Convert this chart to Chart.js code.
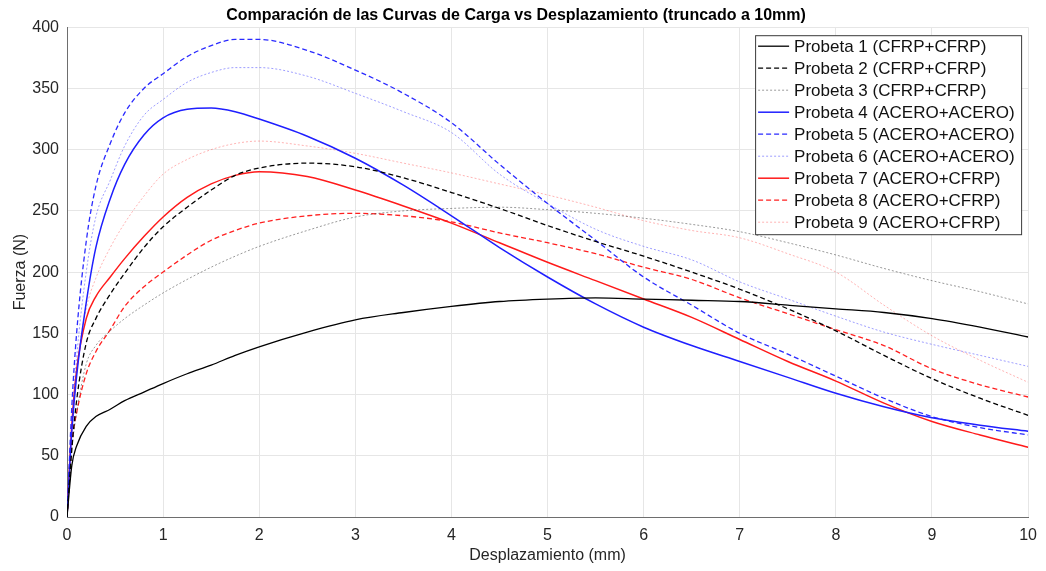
<!DOCTYPE html>
<html>
<head>
<meta charset="utf-8">
<script src="https://cdn.jsdelivr.net/npm/chart.js@4.4.1/dist/chart.umd.min.js"></script>
<style>
  html, body { margin: 0; padding: 0; background: #fff; }
  #wrap { width: 1046px; height: 571px; }
</style>
</head>
<body>
<div id="wrap"><canvas id="cargaChart" width="1046" height="571"></canvas></div>
<script>
// desplazamiento (mm), eje X compartido
const desplazamiento = [0, 0.05, 0.1, 0.2, 0.3, 0.45, 0.6, 0.8, 1, 1.25, 1.5, 1.75, 2, 2.5, 3, 3.5, 4, 4.5, 5, 5.5, 6, 6.5, 7, 7.5, 8, 8.5, 9, 9.5, 10];

// fuerza (N) por probeta
const probeta1 = [0, 42, 58, 74, 82, 88, 95, 102, 109, 117, 124, 132, 139, 151, 161, 167, 172, 176, 178, 179, 178, 177, 176, 173, 170, 167, 162, 155, 147];
const probeta2 = [0, 55, 95, 142, 162, 182, 199, 220, 237, 253, 267, 279, 285, 289, 286, 277, 265, 252, 238, 225, 213, 200, 186, 170, 152, 132, 113, 97, 83];
const probeta3 = [0, 55, 85, 125, 140, 152, 162, 173, 183, 194, 204, 213, 221, 234, 245, 250, 252, 253, 251, 248, 244, 239, 233, 224, 214, 203, 193, 184, 174];
const probeta4 = [0, 70, 115, 175, 220, 260, 288, 312, 326, 333, 334, 331, 325, 311, 293, 271, 246, 220, 196, 174, 155, 140, 127, 114, 101, 90, 81, 75, 70];
const probeta5 = [0, 90, 150, 225, 270, 305, 330, 350, 362, 376, 385, 390, 390, 381, 365, 346, 322, 288, 256, 226, 196, 173, 150, 133, 115, 97, 82, 73, 67];
const probeta6 = [0, 75, 130, 200, 245, 275, 303, 328, 341, 355, 363, 367, 367, 360, 346, 331, 314, 280, 256, 235, 221, 210, 192, 178, 164, 151, 141, 132, 123];
const probeta7 = [0, 75, 120, 162, 180, 196, 211, 229, 245, 261, 272, 279, 282, 278, 267, 254, 240, 224, 208, 193, 178, 163, 145, 127, 111, 93, 78, 67, 57];
const probeta8 = [0, 60, 85, 117, 135, 153, 172, 188, 200, 214, 226, 234, 240, 246, 248, 246, 241, 232, 224, 215, 204, 194, 179, 166, 153, 140, 121, 108, 98];
const probeta9 = [0, 65, 120, 170, 195, 220, 240, 262, 280, 292, 300, 305, 307, 303, 297, 289, 281, 272, 263, 253, 242, 234, 228, 215, 200, 173, 148, 128, 110];

const etiquetas = [
    'Probeta 1 (CFRP+CFRP)', 'Probeta 2 (CFRP+CFRP)', 'Probeta 3 (CFRP+CFRP)',
    'Probeta 4 (ACERO+ACERO)', 'Probeta 5 (ACERO+ACERO)', 'Probeta 6 (ACERO+ACERO)',
    'Probeta 7 (ACERO+CFRP)', 'Probeta 8 (ACERO+CFRP)', 'Probeta 9 (ACERO+CFRP)'
];
const ticksX = [0, 1, 2, 3, 4, 5, 6, 7, 8, 9, 10];
const ticksY = [0, 50, 100, 150, 200, 250, 300, 350, 400];

const FONT = '"Liberation Sans", Arial, Helvetica, sans-serif';

const series = [probeta1, probeta2, probeta3, probeta4, probeta5, probeta6, probeta7, probeta8, probeta9];
const estilos = [
    { color: '#000000', dash: [], width: 1.3 },
    { color: '#000000', dash: [5, 3], width: 1.3 },
    { color: 'rgba(0,0,0,0.4)', dash: [2, 2], width: 1 },
    { color: '#1f1fff', dash: [], width: 1.5 },
    { color: '#2a2aff', dash: [5, 3], width: 1.3 },
    { color: 'rgba(40,40,255,0.45)', dash: [2, 2], width: 1 },
    { color: '#ff1a1a', dash: [], width: 1.5 },
    { color: '#ff2020', dash: [5, 3], width: 1.3 },
    { color: 'rgba(255,40,40,0.35)', dash: [2, 2], width: 1 }
];

function toPoints(arr) {
    return desplazamiento.map(function (x, i) { return { x: x, y: arr[i] }; });
}

// leyenda tipo MATLAB dentro del area de trazado
const leyendaInterna = {
    id: 'leyendaInterna',
    afterDraw(chart) {
        const ctx = chart.ctx;
        const area = chart.chartArea;
        const x0 = area.right - 273, y0 = area.top + 8, w = 266, h = 199;
        ctx.save();
        ctx.fillStyle = '#ffffff';
        ctx.fillRect(x0, y0, w, h);
        ctx.strokeStyle = '#3a3a3a';
        ctx.lineWidth = 1;
        ctx.strokeRect(x0 + 0.5, y0 + 0.5, w, h);
        ctx.font = '17px ' + FONT;
        ctx.textBaseline = 'middle';
        chart.data.datasets.forEach(function (ds, i) {
            const y = y0 + 11 + i * 22;
            ctx.strokeStyle = ds.borderColor;
            ctx.lineWidth = ds.borderWidth;
            ctx.setLineDash(ds.borderDash || []);
            ctx.beginPath();
            ctx.moveTo(x0 + 3, y);
            ctx.lineTo(x0 + 34, y);
            ctx.stroke();
            ctx.setLineDash([]);
            ctx.fillStyle = '#111';
            ctx.fillText(ds.label, x0 + 39, y + 1);
        });
        ctx.restore();
    }
};

new Chart(document.getElementById('cargaChart'), {
    type: 'line',
    data: {
        datasets: series.map(function (arr, i) {
            return {
                label: etiquetas[i],
                data: toPoints(arr),
                borderColor: estilos[i].color,
                borderDash: estilos[i].dash,
                borderWidth: estilos[i].width,
                pointRadius: 0,
                fill: false,
                cubicInterpolationMode: 'monotone'
            };
        })
    },
    options: {
        responsive: false,
        animation: false,
        layout: { padding: { top: 0, right: 14, bottom: 0, left: 0 } },
        plugins: {
            legend: { display: false },
            tooltip: { enabled: false },
            title: {
                display: true,
                text: 'Comparación de las Curvas de Carga vs Desplazamiento (truncado a 10mm)',
                color: '#000',
                font: { family: FONT, size: 16, weight: 'bold' },
                padding: { top: 6, bottom: 2 }
            }
        },
        scales: {
            x: {
                type: 'linear',
                min: 0,
                max: 10,
                afterBuildTicks: function (scale) { scale.ticks = ticksX.map(function (v) { return { value: v }; }); },
                afterFit: function (scale) { scale.height = 54; },
                grid: { color: '#e6e6e6', drawTicks: false },
                border: { color: '#6e6e6e' },
                ticks: { color: '#262626', padding: 9, maxRotation: 0, font: { family: FONT, size: 16 } },
                title: {
                    display: true,
                    text: 'Desplazamiento (mm)',
                    color: '#262626',
                    font: { family: FONT, size: 16 },
                    padding: { top: 0, bottom: 6 }
                }
            },
            y: {
                min: 0,
                max: 400,
                afterBuildTicks: function (scale) { scale.ticks = ticksY.map(function (v) { return { value: v }; }); },
                afterFit: function (scale) { scale.width = 67; },
                grid: { color: '#e6e6e6', drawTicks: false },
                border: { color: '#6e6e6e' },
                ticks: { color: '#262626', padding: 8, font: { family: FONT, size: 16 } },
                title: {
                    display: true,
                    text: 'Fuerza (N)',
                    color: '#262626',
                    font: { family: FONT, size: 16 },
                    padding: { top: 11, bottom: 0 }
                }
            }
        }
    },
    plugins: [leyendaInterna]
});
</script>
</body>
</html>
